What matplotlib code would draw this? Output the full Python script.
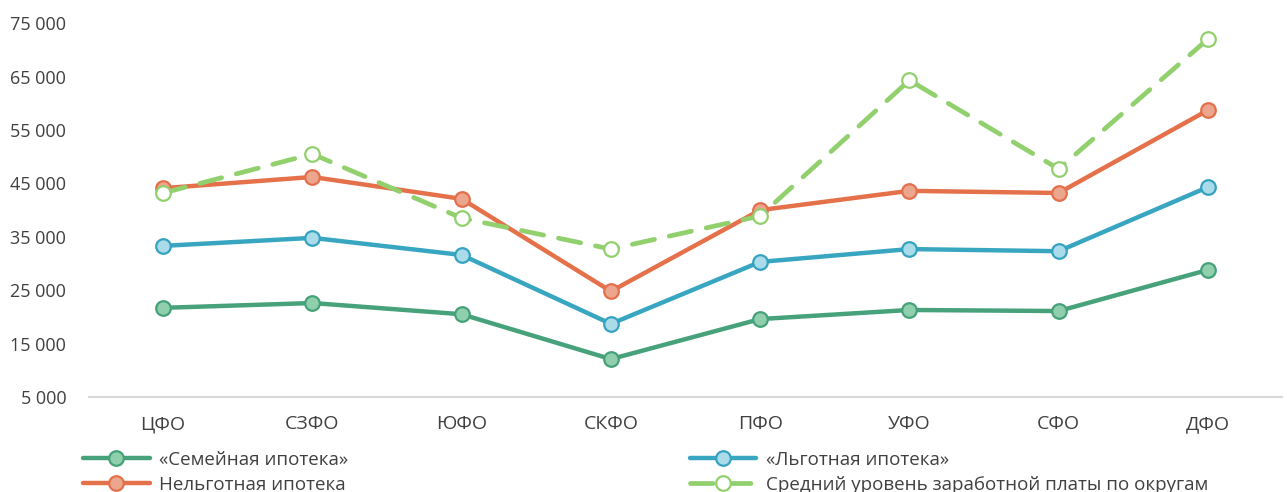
import matplotlib
matplotlib.use("Agg")
import matplotlib.pyplot as plt
from matplotlib.ticker import FuncFormatter

plt.rcParams['font.family'] = ['Open Sans', 'DejaVu Sans']

# data
okruga = ['ЦФО', 'СЗФО', 'ЮФО', 'СКФО', 'ПФО', 'УФО', 'СФО', 'ДФО']
semeynaya = [21700, 22600, 20500, 12100, 19600, 21300, 21100, 28800]
lgotnaya = [33300, 34800, 31600, 18700, 30300, 32700, 32300, 44300]
nelgotnaya = [44100, 46200, 42100, 24800, 40000, 43600, 43200, 58700]
zarplata = [43200, 50500, 38500, 32700, 38900, 64300, 47700, 72000]
y_ticks = [5000, 15000, 25000, 35000, 45000, 55000, 65000, 75000]

fig = plt.figure(figsize=(12.87, 4.92), dpi=100)
ax = fig.add_axes([0.0688, 0.193, 0.9277, 0.760])

x = list(range(len(okruga)))

l1, = ax.plot(x, semeynaya, color='#47a27b', lw=3.2, marker='o', ms=10.5,
              mfc='#8fcfae', mec='#45a178', mew=1.6, solid_capstyle='round',
              label='«Семейная ипотека»', zorder=3)
l2, = ax.plot(x, lgotnaya, color='#39a6c1', lw=3.2, marker='o', ms=10.5,
              mfc='#a9dbe8', mec='#35a3c0', mew=1.6, solid_capstyle='round',
              label='«Льготная ипотека»', zorder=3)
l3, = ax.plot(x, nelgotnaya, color='#e4714a', lw=3.2, marker='o', ms=10.5,
              mfc='#eca68d', mec='#e3704a', mew=1.6, solid_capstyle='round',
              label='Нельготная ипотека', zorder=3)
l4, = ax.plot(x, zarplata, color='#92d06d', lw=3.4, ls=(0, (4.8, 3.2)),
              dash_capstyle='round', marker='o', ms=10.5, mfc='white',
              mec='#92d06d', mew=1.6, label='Средний уровень заработной платы по округам',
              zorder=4)

ax.set_xlim(-0.5, len(okruga) - 0.5)
ax.set_ylim(5000, 75000)
ax.set_yticks(y_ticks)
ax.yaxis.set_major_formatter(FuncFormatter(lambda v, p: f'{int(v):,}'.replace(',', ' ')))
ax.set_xticks(x)
ax.set_xticklabels(okruga)
ax.tick_params(axis='both', length=0, colors='#404040')
ax.tick_params(axis='x', pad=13, labelsize=14)
ax.tick_params(axis='y', pad=16, labelsize=13)

for s in ['top', 'right', 'left']:
    ax.spines[s].set_visible(False)
ax.spines['bottom'].set_color('#d9d9d9')
ax.spines['bottom'].set_linewidth(1.5)
ax.spines['bottom'].set_zorder(1)

leg1 = fig.legend(handles=[l1, l3], loc='upper left', bbox_to_anchor=(0.0645, 0.084),
                  frameon=False, fontsize=13.5, handlelength=3.55, labelspacing=0.38,
                  handletextpad=0.5, borderaxespad=0, borderpad=0)
leg2 = fig.legend(handles=[l2, l4], loc='upper left', bbox_to_anchor=(0.536, 0.084),
                  frameon=False, fontsize=13.5, handlelength=3.55, labelspacing=0.38,
                  handletextpad=0.5, borderaxespad=0, borderpad=0)
for leg in (leg1, leg2):
    for t in leg.get_texts():
        t.set_color('#404040')

fig.savefig('out.png', dpi=100)
